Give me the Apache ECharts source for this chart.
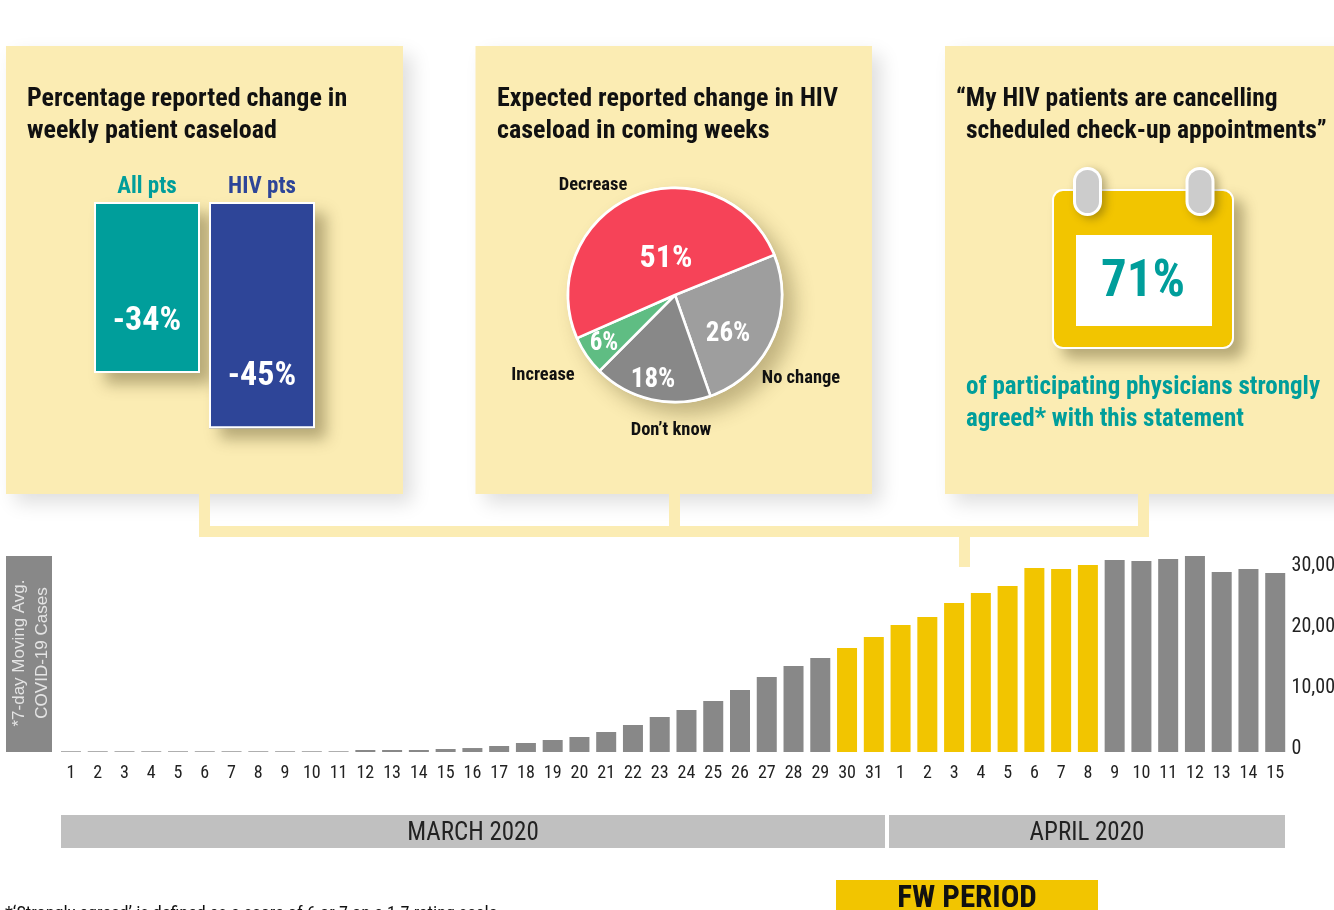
<!DOCTYPE html>
<html><head><meta charset="utf-8">
<style>html,body{margin:0;padding:0;background:#fff;overflow:hidden}#c{width:1334px;height:910px}</style>
<script src="https://cdn.jsdelivr.net/npm/echarts@6/dist/echarts.min.js"></script>
</head><body><div id="c"></div>
<script>
// DATA
const dayLabels = ['1','2','3','4','5','6','7','8','9','10','11','12','13','14','15','16','17','18','19','20','21','22','23','24','25','26','27','28','29','30','31','1','2','3','4','5','6','7','8','9','10','11','12','13','14','15'];
const dailyCases = [110,110,110,110,110,110,110,110,110,110,110,330,330,330,490,650,980,1480,1970,2460,3280,4430,5740,6890,8360,10160,12300,14100,15400,17050,18850,20820,22130,24430,26070,27210,30160,30000,30660,31480,31310,31640,32130,29510,30000,29340];
const fwPeriodDays = [29,30,31,32,33,34,35,36,37,38];
const yTickMax = 33000;
const caseloadGroups = ['All pts','HIV pts'];
const caseloadChange = [-34,-45];
const expectLabels = ['No change',"Don\u2019t know",'Increase','Decrease'];
const expectValues = [26,18,6,51];
const strongAgree = '71%';

const NARROW = '"Roboto Condensed","Liberation Sans",sans-serif';
const TEAL='#009E9B', BLUE='#2E4598', GOLD='#F2C500', GREY='#888888', PANEL='#FBECB3';
const SH='rgba(70,60,20,0.38)';

function rect(x,y,w,h,fill,z,extra){return {type:'rect',z:z||0,shape:Object.assign({x,y,width:w,height:h},extra&&extra.shape),style:Object.assign({fill},extra&&extra.style)};}
function txt(s,x,y,font,fill,align,extra){return Object.assign({type:'text',z:5,x,y,style:{text:s,font,fill,align:align||'left',verticalAlign:'middle'}},extra||{});}
const panelShadow={shadowColor:'rgba(0,0,0,0.13)',shadowBlur:18,shadowOffsetX:9,shadowOffsetY:9};
const ringShadow={shadowColor:SH,shadowBlur:8,shadowOffsetX:4,shadowOffsetY:3};
const TITLE='bold 26px '+NARROW, TITLE3='bold 25.5px '+NARROW, GREEN='bold 25px '+NARROW;

const graphics=[
  rect(6,46,397,448,PANEL,0,{style:panelShadow}),
  rect(475.5,46,396.5,448,PANEL,0,{style:panelShadow}),
  rect(945,46,420,448,PANEL,0,{style:panelShadow}),
  rect(199,494,11,43,PANEL,1),rect(669,494,11,43,PANEL,1),rect(1138,494,11,43,PANEL,1),
  rect(199,526,950,11,PANEL,1),rect(959,537,11,30,PANEL,1),
  rect(6,556,46,196,GREY,1),
  rect(61,815,824,33,'#C0C0C0',1),rect(889,815,396,33,'#C0C0C0',1),
  rect(836,880,262,40,GOLD,1),
  txt('Percentage reported change in',27,99,TITLE,'#111'),
  txt('weekly patient caseload',27,131,TITLE,'#111'),
  txt('Expected reported change in HIV',497,99,TITLE,'#111'),
  txt('caseload in coming weeks',497,131,TITLE,'#111'),
  txt('\u201CMy HIV patients are cancelling',956,100,TITLE3,'#111'),
  txt('scheduled check-up appointments\u201D',966,132,TITLE3,'#111'),
  // calendar
  rect(1052,189,182,160,'#fff',2,{shape:{r:11},style:{shadowColor:SH,shadowBlur:14,shadowOffsetX:10,shadowOffsetY:10}}),
  rect(1054,191,178,156,GOLD,2,{shape:{r:9}}),
  rect(1073,167,29,49,'#fff',3,{shape:{r:14.5},style:ringShadow}),
  rect(1185.5,167,29,49,'#fff',3,{shape:{r:14.5},style:ringShadow}),
  rect(1076,170,23,43,'#CCCCCC',3,{shape:{r:11.5}}),
  rect(1188.5,170,23,43,'#CCCCCC',3,{shape:{r:11.5}}),
  rect(1076,235,136,91,'#fff',3),
  txt(strongAgree,1143,283,'bold 51px '+NARROW,TEAL,'center'),
  txt('of participating physicians strongly',966,388,GREEN,TEAL),
  txt('agreed* with this statement',966,420,GREEN,TEAL),
  txt('*7-day Moving Avg.',19,653,'17px "Liberation Sans",sans-serif','#E4E4E4','center',{rotation:Math.PI/2}),
  txt('COVID-19 Cases',42,653,'17px "Liberation Sans",sans-serif','#E4E4E4','center',{rotation:Math.PI/2}),
  txt('MARCH 2020',473,834,'25px '+NARROW,'#222','center'),
  txt('APRIL 2020',1087,834,'25px '+NARROW,'#222','center'),
  txt('FW PERIOD',967,899,'bold 31px '+NARROW,'#111','center'),
  txt('*\u2018Strongly agreed\u2019 is defined as a score of 6 or 7 on a 1-7 rating scale',5,914,'18.2px '+NARROW,'#111')
];

const innerPos=[[728,334],[653,380],[604,344],[666,259]];
const innerSize=[27,27,25,32];
const outerPos=[[801,378],[671,430],[543,375],[593,185]];
const pieColors=['#9E9E9E','#888888','#5FBD83','#F64358'];

const option={
  animation:false,
  backgroundColor:'#fff',
  graphic:{elements:graphics},
  grid:[
    {left:89.5,top:202,width:230,height:251.5,outerBoundsMode:'none'},
    {left:57.6,top:752-yTickMax*0.0061,width:1231,height:yTickMax*0.0061,outerBoundsMode:'none'}
  ],
  xAxis:[
    {gridIndex:0,type:'category',position:'top',data:caseloadGroups,axisLine:{show:false},axisTick:{show:false},
     axisLabel:{margin:3,fontFamily:NARROW,fontWeight:'bold',fontSize:23,color:(v,i)=>i===0?TEAL:BLUE}},
    {gridIndex:1,type:'category',data:dayLabels,axisLine:{show:false},axisTick:{show:false},
     axisLabel:{interval:0,margin:12,fontFamily:NARROW,fontSize:18,color:'#222'}}
  ],
  yAxis:[
    {gridIndex:0,type:'value',min:-50,max:0,show:false},
    {gridIndex:1,type:'value',position:'right',min:0,max:yTickMax,interval:10000,splitLine:{show:false},axisLine:{show:false},axisTick:{show:false},
     axisLabel:{margin:3,showMaxLabel:false,fontFamily:NARROW,fontSize:20,color:'#222',verticalAlign:'bottom',lineHeight:6,align:'left',
       formatter:v=>v.toLocaleString('en-US')}}
  ],
  series:[
    {type:'bar',xAxisIndex:0,yAxisIndex:0,barWidth:106,barGap:'-100%',silent:true,z:2,
     data:caseloadChange.map((v,i)=>({value:v,itemStyle:{color:i===0?TEAL:BLUE}})),
     itemStyle:{shadowColor:SH,shadowBlur:14,shadowOffsetX:11,shadowOffsetY:11}},
    {type:'bar',xAxisIndex:0,yAxisIndex:0,barWidth:106,barGap:'-100%',z:3,
     data:caseloadChange.map((v,i)=>({value:v,itemStyle:{color:i===0?TEAL:BLUE}})),
     itemStyle:{borderColor:'#fff',borderWidth:2},
     label:{show:true,position:'insideBottom',distance:35,formatter:'{c}%',color:'#fff',fontFamily:NARROW,fontWeight:'bold',fontSize:34}},
    {type:'bar',xAxisIndex:1,yAxisIndex:1,barWidth:20,
     data:dailyCases.map((v,i)=>({value:v,itemStyle:{color:fwPeriodDays.includes(i)?GOLD:GREY}}))},
    {type:'pie',center:[675,295],radius:[0,108.5],silent:true,z:1,label:{show:false},labelLine:{show:false},
     data:[{value:expectValues.reduce((a,b)=>a+b,0),itemStyle:{color:'#fff',shadowColor:'rgba(70,60,20,0.32)',shadowBlur:20,shadowOffsetX:11,shadowOffsetY:11}}]},
    {type:'pie',center:[675,295],radius:[0,107],startAngle:22,clockwise:true,z:2,
     itemStyle:{borderColor:'#fff',borderWidth:2.5},
     data:expectLabels.map((n,i)=>({name:n,value:expectValues[i],itemStyle:{color:pieColors[i]},
       label:{fontSize:innerSize[i]}})),
     label:{show:true,position:'inside',formatter:'{c}%',color:'#fff',fontFamily:NARROW,fontWeight:'bold'},
     labelLine:{show:false},
     labelLayout:p=>({x:innerPos[p.dataIndex][0],y:innerPos[p.dataIndex][1],align:'center',verticalAlign:'middle'})},
    {type:'pie',center:[675,295],radius:[0,107],startAngle:22,z:3,silent:true,itemStyle:{color:'transparent',borderWidth:0},
     data:expectLabels.map((n,i)=>({name:n,value:expectValues[i]})),
     label:{show:true,position:'outside',formatter:'{b}',color:'#111',fontFamily:NARROW,fontWeight:'bold',fontSize:18.5},
     labelLine:{show:false},
     labelLayout:p=>({x:outerPos[p.dataIndex][0],y:outerPos[p.dataIndex][1],align:'center',verticalAlign:'middle'})}
  ]
};
echarts.init(document.getElementById('c'),null,{renderer:'canvas'}).setOption(option);
</script></body></html>
